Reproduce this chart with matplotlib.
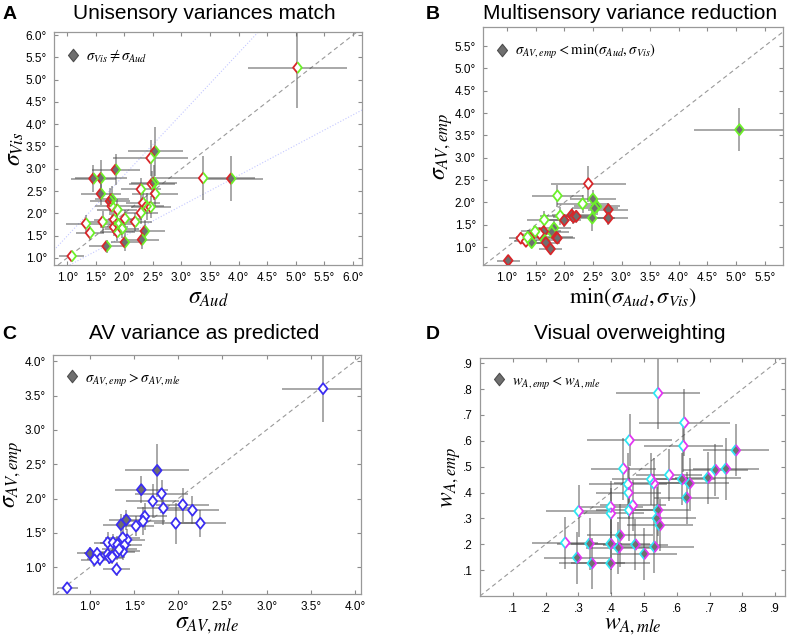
import numpy as np
import matplotlib
matplotlib.use("Agg")
from matplotlib import pyplot as plt
from matplotlib.path import Path

plt.rcParams['mathtext.fontset'] = 'stix'
plt.rcParams['font.family'] = ['Liberation Sans', 'DejaVu Sans']

# ---- A: unisensory variances ----
a_x = [5.03, 2.54, 2.46, 1.85, 1.46, 1.59, 3.38, 3.87, 2.48, 2.52, 2.29, 2.54, 1.59, 1.75, 1.78, 1.78, 1.88, 2.33,
       2.39, 2.46, 2.29, 2.01, 1.82, 2.19, 1.62, 1.33, 1.88, 1.82, 1.96, 1.88, 1.40, 2.36, 2.31, 2.01, 1.69, 1.08]
a_y = [5.27, 3.39, 3.24, 2.98, 2.78, 2.79, 2.79, 2.78, 2.66, 2.69, 2.54, 2.44, 2.44, 2.27, 2.32, 2.16, 2.08, 2.23,
       2.16, 2.14, 2.01, 1.88, 1.86, 1.81, 1.81, 1.77, 1.77, 1.69, 1.65, 1.58, 1.56, 1.60, 1.41, 1.35, 1.26, 1.04]
a_xerr = [0.87, 0.48, 0.65, 0.42, 0.4, 0.45, 0.9, 0.55, 0.4, 0.4, 0.35, 0.4, 0.35, 0.35, 0.3, 0.3, 0.35, 0.3,
          0.3, 0.35, 0.3, 0.3, 0.35, 0.3, 0.3, 0.35, 0.3, 0.25, 0.3, 0.3, 0.25, 0.35, 0.3, 0.25, 0.3, 0.22]
a_yerr = [0.9, 0.55, 0.4, 0.35, 0.3, 0.4, 0.5, 0.5, 0.3, 0.4, 0.25, 0.3, 0.25, 0.3, 0.3, 0.25, 0.25, 0.3,
          0.3, 0.25, 0.25, 0.2, 0.25, 0.2, 0.25, 0.2, 0.25, 0.2, 0.2, 0.2, 0.15, 0.25, 0.2, 0.2, 0.15, 0.1]
a_filled = [0, 1, 0, 1, 1, 1, 0, 1, 0, 1, 0, 0, 1, 1, 1, 0, 0, 0,
            0, 0, 0, 0, 0, 0, 0, 0, 0, 0, 0, 0, 0, 1, 1, 1, 1, 0]
# dotted bounds in A (slope, intercept)
a_bounds = [(1.37, 0.12), (0.68, 0.13)]

# ---- B: multisensory variance reduction ----
b_x = [1.02, 5.06, 2.42, 1.88, 2.32, 2.50, 2.57, 2.53, 2.77, 2.77, 2.49, 1.93, 2.13, 2.16, 2.21, 2.00, 1.65, 1.82,
       1.78, 1.86, 1.88, 1.64, 1.57, 1.49, 1.66, 1.68, 1.24, 1.40, 1.33, 1.43, 1.36, 1.76]
b_y = [0.70, 3.63, 2.42, 2.15, 1.97, 2.08, 1.91, 1.87, 1.84, 1.65, 1.65, 1.70, 1.72, 1.67, 1.69, 1.60, 1.61, 1.43,
       1.34, 1.22, 1.20, 1.35, 1.30, 1.35, 1.15, 1.10, 1.20, 1.20, 1.13, 1.10, 1.22, 0.96]
b_xerr = [0.2, 0.8, 0.65, 0.45, 0.45, 0.4, 0.4, 0.4, 0.35, 0.35, 0.4, 0.35, 0.35, 0.35, 0.3, 0.3, 0.3, 0.3,
          0.3, 0.3, 0.3, 0.3, 0.25, 0.25, 0.25, 0.25, 0.2, 0.25, 0.2, 0.2, 0.2, 0.2]
b_yerr = [0.05, 0.48, 0.4, 0.25, 0.2, 0.2, 0.2, 0.15, 0.15, 0.15, 0.3, 0.2, 0.15, 0.15, 0.15, 0.15, 0.2, 0.15,
          0.15, 0.12, 0.12, 0.15, 0.12, 0.12, 0.1, 0.1, 0.1, 0.1, 0.1, 0.1, 0.1, 0.08]
b_filled = [1, 1, 0, 0, 0, 1, 1, 1, 1, 1, 1, 0, 1, 1, 1, 1, 0, 1,
            1, 1, 1, 1, 0, 0, 1, 1, 0, 0, 0, 1, 0, 1]
b_edge = ['r', 'g', 'r', 'g', 'g', 'g', 'g', 'g', 'r', 'r', 'g', 'g', 'r', 'r', 'r', 'r', 'g', 'g',
          'g', 'r', 'r', 'r', 'r', 'g', 'g', 'r', 'r', 'r', 'r', 'g', 'g', 'r']

# ---- C: AV variance vs prediction ----
c_x = [3.64, 0.74, 1.76, 1.58, 1.81, 1.71, 2.05, 1.83, 2.16, 1.97, 2.25, 1.62, 1.60, 1.52, 1.41, 1.35, 1.42,
       1.37, 1.20, 1.26, 1.31, 1.39, 1.37, 1.31, 1.20, 1.00, 1.08, 1.11, 1.05, 1.22, 1.25, 1.30, 1.33]
c_y = [3.60, 0.70, 2.41, 2.13, 2.07, 1.96, 1.91, 1.86, 1.83, 1.64, 1.64, 1.74, 1.67, 1.60, 1.69, 1.62, 1.40,
       1.43, 1.36, 1.36, 1.33, 1.32, 1.23, 1.22, 1.19, 1.20, 1.20, 1.12, 1.11, 1.14, 1.15, 0.97, 1.26]
c_xerr = [0.47, 0.12, 0.36, 0.3, 0.3, 0.3, 0.3, 0.3, 0.3, 0.25, 0.29, 0.25, 0.25, 0.2, 0.2, 0.2, 0.2,
          0.2, 0.15, 0.15, 0.15, 0.2, 0.2, 0.2, 0.15, 0.15, 0.15, 0.15, 0.15, 0.15, 0.15, 0.15, 0.2]
c_yerr = [0.48, 0.05, 0.39, 0.2, 0.2, 0.25, 0.25, 0.25, 0.2, 0.3, 0.2, 0.2, 0.2, 0.15, 0.15, 0.15, 0.15,
          0.15, 0.15, 0.12, 0.12, 0.12, 0.12, 0.12, 0.1, 0.1, 0.1, 0.1, 0.1, 0.1, 0.1, 0.1, 0.1]
c_filled = [0, 0, 1, 1, 0, 0, 0, 0, 0, 0, 0, 0, 0, 0, 1, 1, 0,
            0, 0, 0, 0, 0, 0, 0, 0, 1, 0, 0, 0, 0, 0, 0, 0]

# ---- D: auditory weights ----
d_x = [0.543, 0.623, 0.620, 0.456, 0.437, 0.577, 0.522, 0.530, 0.451, 0.453, 0.466, 0.455, 0.398, 0.399, 0.301,
       0.260, 0.780, 0.750, 0.718, 0.695, 0.616, 0.639, 0.630, 0.543, 0.539, 0.548, 0.427, 0.398, 0.334, 0.422,
       0.474, 0.501, 0.532, 0.296, 0.341, 0.398]
d_y = [0.784, 0.670, 0.580, 0.602, 0.492, 0.468, 0.451, 0.435, 0.432, 0.399, 0.350, 0.332, 0.344, 0.319, 0.328,
       0.206, 0.563, 0.492, 0.487, 0.457, 0.451, 0.435, 0.380, 0.332, 0.300, 0.273, 0.234, 0.202, 0.202, 0.186,
       0.199, 0.163, 0.190, 0.148, 0.126, 0.126]
d_xerr = [0.127, 0.138, 0.12, 0.13, 0.1, 0.1, 0.12, 0.12, 0.12, 0.1, 0.1, 0.1, 0.1, 0.1, 0.1, 0.1, 0.1, 0.1,
          0.1, 0.1, 0.1, 0.12, 0.1, 0.1, 0.12, 0.1, 0.1, 0.12, 0.1, 0.1, 0.1, 0.1, 0.12, 0.1, 0.1, 0.12]
d_yerr = [0.14, 0.13, 0.1, 0.1, 0.12, 0.1, 0.1, 0.1, 0.12, 0.1, 0.1, 0.12, 0.1, 0.1, 0.1, 0.1, 0.1, 0.12,
          0.1, 0.1, 0.1, 0.1, 0.1, 0.1, 0.12, 0.1, 0.12, 0.1, 0.1, 0.1, 0.1, 0.1, 0.1, 0.1, 0.1, 0.12]
d_filled = [0] * 16 + [1] * 20

deg_ticks_a = [1.0, 1.5, 2.0, 2.5, 3.0, 3.5, 4.0, 4.5, 5.0, 5.5, 6.0]
deg_ticks_b = [1.0, 1.5, 2.0, 2.5, 3.0, 3.5, 4.0, 4.5, 5.0, 5.5]
deg_ticks_c = [1.0, 1.5, 2.0, 2.5, 3.0, 3.5, 4.0]
w_ticks = [.1, .2, .3, .4, .5, .6, .7, .8, .9]

GRAY = '#6f6f6f'
RED = '#d8262a'
GREEN = '#6cf02a'
BLUE = '#3b2df2'
CYAN = '#2ee6f2'
MAGENTA = '#e236f2'

w = 0.8
diamond = Path([(0, 1), (-w, 0), (0, -1), (w, 0), (0, 1)],
               [Path.MOVETO, Path.LINETO, Path.LINETO, Path.LINETO, Path.CLOSEPOLY])
left_half = Path([(0, 1), (-w, 0), (0, -1)], [Path.MOVETO, Path.LINETO, Path.LINETO])
right_half = Path([(0, 1), (w, 0), (0, -1)], [Path.MOVETO, Path.LINETO, Path.LINETO])
MS = 62


def faces(filled):
    return [GRAY if f else 'white' for f in filled]


def errbars(ax, x, y, xe, ye):
    ax.errorbar(x, y, xerr=xe, yerr=ye, fmt='none', ecolor='0.3', elinewidth=1.1,
                alpha=0.62, capsize=0, zorder=2)


def split_diamonds(ax, x, y, filled, lcol, rcol):
    ax.scatter(x, y, marker=diamond, s=MS, c=faces(filled), edgecolors='none', zorder=3)
    ax.scatter(x, y, marker=left_half, s=MS, facecolors='none', edgecolors=lcol, linewidths=1.3, zorder=4)
    ax.scatter(x, y, marker=right_half, s=MS, facecolors='none', edgecolors=rcol, linewidths=1.3, zorder=4)


def style(ax, xlim, ylim, xt, yt, xfmt, yfmt):
    ax.set_xlim(*xlim)
    ax.set_ylim(*ylim)
    ax.set_xticks(xt)
    ax.set_xticklabels([xfmt(t) for t in xt])
    ax.set_yticks(yt)
    ax.set_yticklabels([yfmt(t) for t in yt])
    ax.tick_params(direction='in', top=True, right=True, length=3, width=0.8,
                   color='0.55', labelsize=8.5, pad=5)
    for s in ax.spines.values():
        s.set_color('0.6')
        s.set_linewidth(0.9)
    ax.axline((0, 0), slope=1, color='0.6', ls=(0, (4, 3)), lw=0.8, zorder=1)


def legend(ax, text):
    ax.plot([], [], ls='none', marker=diamond, markersize=9, markerfacecolor=GRAY,
            markeredgecolor='0.3', markeredgewidth=0.8, label=text)
    ax.legend(loc='upper left', frameon=False, fontsize=10.5, handletextpad=0.3, handlelength=1.2,
              borderaxespad=0.5, bbox_to_anchor=(-0.01, 0.99))


deg = lambda t: f"{t:.1f}°"
dot = lambda t: f".{int(round(t * 10))}"

fig = plt.figure(figsize=(7.9, 6.39), dpi=100)
axA = fig.add_axes([0.0684, 0.5853, 0.3899, 0.3646])
axB = fig.add_axes([0.6114, 0.5853, 0.3797, 0.3725])
axC = fig.add_axes([0.0671, 0.0704, 0.3899, 0.3740])
axD = fig.add_axes([0.6076, 0.0673, 0.3861, 0.3725])

# A
style(axA, (0.77, 6.16), (0.84, 6.07), deg_ticks_a, deg_ticks_a, deg, deg)
for m, b in a_bounds:
    axA.axline((0, b), slope=m, color='#c4c8ff', ls=':', lw=0.8, zorder=1)
errbars(axA, a_x, a_y, a_xerr, a_yerr)
split_diamonds(axA, a_x, a_y, a_filled, RED, GREEN)
legend(axA, r'$\sigma_{Vis} \neq \sigma_{Aud}$')
axA.set_xlabel(r'$\sigma_{Aud}$', fontsize=17, labelpad=2)
axA.set_ylabel(r'$\sigma_{Vis}$', fontsize=17, labelpad=0)

# B
style(axB, (0.58, 5.82), (0.60, 5.93), deg_ticks_b, deg_ticks_b, deg, deg)
errbars(axB, b_x, b_y, b_xerr, b_yerr)
axB.scatter(b_x, b_y, marker=diamond, s=MS, c=faces(b_filled),
            edgecolors=[RED if e == 'r' else GREEN for e in b_edge], linewidths=1.3, zorder=3)
legend(axB, r'$\sigma_{AV,emp} < \mathrm{min}(\sigma_{Aud}, \sigma_{Vis})$')
axB.set_xlabel(r'$\mathrm{min}(\sigma_{Aud}, \sigma_{Vis})$', fontsize=16, labelpad=2)
axB.set_ylabel(r'$\sigma_{AV,emp}$', fontsize=17, labelpad=0)

# C
style(axC, (0.58, 4.07), (0.61, 4.09), deg_ticks_c, deg_ticks_c, deg, deg)
errbars(axC, c_x, c_y, c_xerr, c_yerr)
axC.scatter(c_x, c_y, marker=diamond, s=MS, c=faces(c_filled), edgecolors=BLUE, linewidths=1.3, zorder=3)
legend(axC, r'$\sigma_{AV,emp} > \sigma_{AV,mle}$')
axC.set_xlabel(r'$\sigma_{AV,mle}$', fontsize=17, labelpad=1)
axC.set_ylabel(r'$\sigma_{AV,emp}$', fontsize=17, labelpad=0)

# D
style(axD, (0.0, 0.93), (0.0, 0.92), w_ticks, w_ticks, dot, dot)
errbars(axD, d_x, d_y, d_xerr, d_yerr)
split_diamonds(axD, d_x, d_y, d_filled, CYAN, MAGENTA)
legend(axD, r'$w_{A,emp} < w_{A,mle}$')
axD.set_xlabel(r'$w_{A,mle}$', fontsize=17, labelpad=0)
axD.set_ylabel(r'$w_{A,emp}$', fontsize=17, labelpad=0)

# titles and panel letters
for x, y, t in [(0.258, 0.979, 'Unisensory variances match'), (0.797, 0.979, 'Multisensory variance reduction'),
                (0.258, 0.478, 'AV variance as predicted'), (0.797, 0.478, 'Visual overweighting')]:
    fig.text(x, y, t, ha='center', va='center', fontsize=15)
for x, y, t in [(0.012, 0.977, 'A'), (0.548, 0.977, 'B'), (0.012, 0.477, 'C'), (0.548, 0.477, 'D')]:
    fig.text(x, y, t, ha='center', va='center', fontsize=14, fontweight='bold')

fig.savefig('out.png', dpi=100)
